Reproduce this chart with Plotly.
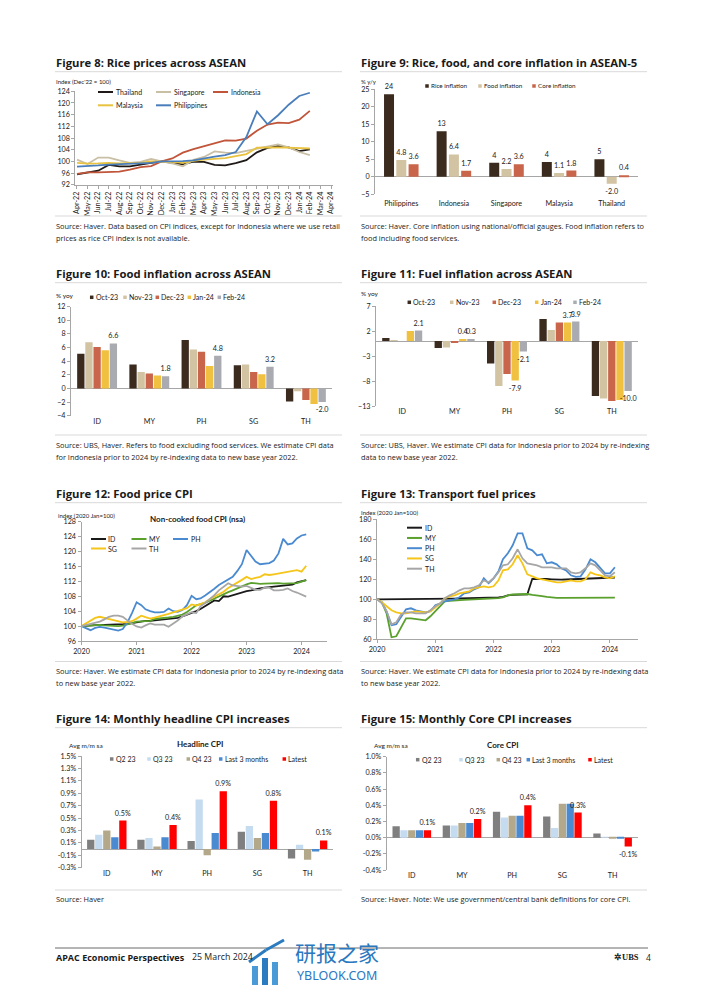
import pandas as pd
import plotly.graph_objects as go

W, H = 702, 992
OFF = 8            # browser body margin: the plot is drawn starting at (8, 8)
FW, FH = W - OFF, H - OFF
FONT = "Lato"
FONT_T = "Open Sans"
TXT = "#1a1a1a"
AXC = "#a6a6a6"
SEP = "#d9d9d9"

# ---------------- Figure 8: rice prices (Index Dec'22 = 100) ----------------
rice_months = ["Apr-22", "May-22", "Jun-22", "Jul-22", "Aug-22", "Sep-22", "Oct-22", "Nov-22",
               "Dec-22", "Jan-23", "Feb-23", "Mar-23", "Apr-23", "May-23", "Jun-23", "Jul-23",
               "Aug-23", "Sep-23", "Oct-23", "Nov-23", "Dec-23", "Jan-24", "Feb-24", "Mar-24", "Apr-24"]
rice_thailand = [95.5, 96.2, 96.8, 98.8, 98.3, 98.3, 99.0, 99.5, 100.0, 99.4, 99.0, 99.9,
                 99.8, 98.8, 98.6, 99.4, 100.4, 103.1, 104.6, 105.2, 104.8, 103.5, 104.1]
rice_singapore = [100.6, 99.1, 101.3, 101.3, 100.3, 99.5, 99.8, 100.8, 100.0, 99.3, 98.3, 100.5,
                  101.5, 103.4, 103.0, 102.8, 103.6, 104.3, 105.0, 105.8, 104.8, 103.2, 102.1]
rice_indonesia = [95.7, 96.2, 96.2, 96.3, 96.5, 97.2, 98.0, 98.4, 100.0, 101.0, 103.0, 104.2,
                  105.2, 106.2, 107.2, 107.1, 107.8, 110.5, 112.6, 113.3, 113.1, 114.3, 117.3]
rice_malaysia = [99.5, 99.2, 99.3, 99.5, 99.3, 99.3, 99.5, 100.0, 100.0, 99.8, 99.5, 100.2,
                 100.6, 100.8, 101.1, 101.8, 102.5, 104.7, 104.8, 104.8, 104.7, 104.5, 104.4]
rice_philippines = [98.2, 98.3, 98.6, 98.9, 99.1, 99.3, 99.4, 99.5, 100.0, 100.0, 100.1, 100.3,
                    101.0, 101.6, 102.1, 103.2, 108.3, 117.1, 112.7, 115.8, 119.4, 122.4, 123.5]
rice_names = ["Thailand", "Singapore", "Indonesia", "Malaysia", "Philippines"]
rice_colors = ["#1f1a17", "#c9bfa5", "#c0553a", "#e9c340", "#4a7ebb"]

# ---------------- Figure 9: rice, food, core inflation ----------------
asean5 = ["Philippines", "Indonesia", "Singapore", "Malaysia", "Thailand"]
rice_infl = [23.6, 13.0, 4.0, 4.2, 5.0]
food_infl = [4.8, 6.4, 2.2, 1.1, -2.0]
core_infl = [3.6, 1.7, 3.6, 1.8, 0.4]
f9_names = ["Rice inflation", "Food inflation", "Core inflation"]
f9_colors = ["#3b2a1e", "#d2c3a2", "#c8654a"]

# ---------------- Figures 10 & 11 ----------------
cc = ["ID", "MY", "PH", "SG", "TH"]
months5 = ["Oct-23", "Nov-23", "Dec-23", "Jan-24", "Feb-24"]
m5_colors = ["#3b2a1e", "#d2c3a2", "#c8654a", "#f0c040", "#a9abb0"]
food_oct = [5.1, 3.5, 7.1, 3.4, -1.9]
food_nov = [6.8, 2.4, 5.7, 3.5, -0.4]
food_dec = [6.1, 2.2, 5.4, 2.4, -1.7]
food_jan = [5.6, 1.9, 3.3, 2.1, -2.3]
food_feb = [6.6, 1.8, 4.8, 3.2, -2.0]
fuel_oct = [0.6, -1.4, -4.5, 4.4, -11.0]
fuel_nov = [0.2, -1.3, -9.0, 2.2, -11.5]
fuel_dec = [0.0, -0.3, -6.6, 3.7, -12.0]
fuel_jan = [2.0, 0.4, -7.9, 3.7, -11.8]
fuel_feb = [2.1, 0.3, -2.1, 3.9, -10.0]
fuel_jan_labelled = ["MY", "PH", "SG"]

# ---------------- Figure 12: food CPI (2020 Jan = 100) ----------------
food_cpi_id = [100.0, 100.1, 100.2, 100.3, 100.3, 100.3, 100.3, 100.4, 100.4, 100.5, 100.6, 100.8,
               101.1, 101.3, 101.4, 101.4, 101.5, 101.6, 101.7, 101.8, 101.9, 102.2, 102.6, 103.0,
               103.5, 104.0, 104.6, 105.3, 106.1, 106.9, 106.7, 108.0, 107.9, 108.3, 108.7, 109.0,
               109.4, 109.6, 109.9, 110.1, 110.3, 110.4, 110.6, 110.6, 110.7, 110.8, 111.1, 111.7,
               111.9, 112.3]
food_cpi_my = [100.0, 100.1, 100.2, 100.3, 100.3, 100.2, 100.1, 100.0, 100.0, 100.1, 100.4, 100.8,
               101.2, 101.2, 101.2, 101.4, 101.9, 102.0, 102.1, 102.3, 102.5, 102.8, 103.1, 103.8,
               104.8, 105.6, 105.9, 106.2, 106.8, 107.4, 108.1, 108.6, 109.1, 109.6, 110.2, 110.8,
               111.2, 111.6, 111.5, 111.3, 111.4, 111.5, 111.5, 111.5, 111.4, 111.4, 111.3, 111.5,
               111.9, 112.3]
food_cpi_ph = [100.0, 99.5, 98.9, 99.5, 99.8, 99.6, 99.4, 99.0, 98.8, 99.2, 101.0, 103.5,
               106.4, 105.6, 104.5, 104.0, 103.7, 103.7, 103.8, 104.7, 104.0, 103.8, 104.3, 105.6,
               108.1, 107.2, 107.4, 108.2, 109.0, 110.0, 111.0, 111.7, 112.3, 113.2, 114.8, 116.6,
               120.4, 118.6, 117.3, 116.6, 116.7, 116.9, 117.6, 119.5, 123.4, 121.9, 122.2, 123.5,
               124.3, 124.6]
food_cpi_sg = [100.0, 100.8, 101.6, 102.2, 102.5, 102.2, 101.9, 101.6, 101.3, 101.0, 101.1, 101.3,
               102.0, 102.8, 102.4, 102.0, 102.3, 102.6, 103.0, 103.3, 103.7, 104.0, 104.3, 104.8,
               105.8, 105.5, 105.9, 106.4, 107.2, 107.9, 108.6, 109.2, 110.2, 111.0, 111.7, 112.4,
               113.2, 112.6, 112.9, 113.2, 113.9, 113.7, 113.9, 114.1, 114.3, 114.4, 114.7, 115.0,
               114.6, 116.2]
food_cpi_th = [100.0, 100.3, 100.6, 100.9, 101.2, 101.8, 102.5, 102.8, 102.8, 102.5, 101.5, 100.6,
               99.9, 99.6, 100.2, 100.7, 100.4, 100.3, 100.4, 99.8, 100.6, 101.5, 102.6, 103.2,
               103.7, 103.5, 105.3, 106.2, 107.2, 108.3, 109.6, 110.5, 111.5, 110.9, 110.7, 110.6,
               110.8, 110.3, 109.7, 109.7, 110.3, 110.3, 109.6, 109.6, 109.7, 110.1, 109.4, 109.0,
               108.4, 107.9]

# ---------------- Figure 13: transport fuel prices (2020 Jan = 100) ----------------
fuel_cpi_id = [100.0, 100.0, 100.0, 100.0, 100.0, 100.0, 100.0, 100.0, 100.0, 100.0, 100.0, 100.2,
               100.3, 100.4, 100.5, 100.6, 100.7, 100.8, 100.9, 101.0, 101.1, 101.2, 101.3, 101.4,
               101.6, 101.9, 102.5, 104.0, 104.4, 104.6, 104.8, 105.0, 120.5, 120.6, 120.6, 120.3,
               120.0, 119.6, 119.6, 119.8, 120.0, 120.0, 120.2, 120.4, 120.7, 121.0, 121.3, 121.5,
               121.5, 121.8]
fuel_cpi_my = [100.0, 97.0, 86.0, 62.0, 63.0, 72.0, 81.0, 81.0, 80.5, 80.0, 79.0, 83.0,
               88.0, 94.0, 98.0, 98.5, 99.0, 99.3, 99.5, 99.7, 99.9, 100.1, 100.3, 100.5,
               100.7, 101.2, 102.0, 104.0, 104.8, 105.2, 105.6, 105.3, 104.5, 103.5, 103.2, 102.5,
               101.8, 101.5, 101.4, 101.4, 101.4, 101.4, 101.4, 101.5, 101.5, 101.5, 101.6, 101.6,
               101.7, 101.7]
fuel_cpi_ph = [100.0, 97.0, 88.0, 74.0, 75.0, 83.0, 90.0, 91.0, 89.0, 88.0, 87.0, 88.0,
               94.0, 96.0, 98.0, 99.0, 100.0, 102.0, 106.0, 107.0, 110.0, 112.0, 121.0, 116.0,
               121.0, 128.0, 140.0, 146.0, 154.0, 166.0, 166.0, 151.0, 149.0, 144.0, 145.0, 136.0,
               137.0, 135.0, 131.0, 129.0, 124.0, 122.5, 123.0, 130.0, 140.0, 137.0, 131.0, 126.0,
               126.0, 132.0]
fuel_cpi_sg = [100.0, 97.0, 93.0, 89.0, 87.0, 86.0, 86.0, 87.0, 88.0, 87.5, 87.0, 88.0,
               92.0, 96.0, 101.0, 103.0, 104.0, 106.0, 107.0, 108.0, 111.0, 112.0, 113.0, 112.0,
               113.0, 119.0, 129.0, 130.0, 135.0, 144.0, 136.0, 125.0, 123.0, 121.0, 120.0, 119.0,
               118.0, 117.0, 117.0, 118.0, 119.0, 118.0, 118.0, 120.0, 127.0, 125.0, 124.0, 122.0,
               121.0, 123.0]
fuel_cpi_th = [100.0, 96.0, 88.0, 75.0, 77.0, 85.0, 87.0, 87.0, 86.0, 86.0, 86.0, 89.0,
               93.0, 96.0, 101.0, 104.0, 106.0, 109.0, 111.0, 111.0, 112.0, 114.0, 119.0, 117.0,
               121.0, 127.0, 134.0, 135.0, 141.0, 150.0, 141.0, 136.0, 135.0, 134.0, 132.0, 132.0,
               132.0, 131.0, 131.0, 131.0, 127.0, 126.0, 127.0, 131.0, 136.0, 134.0, 129.0, 124.0,
               123.0, 127.0]
cpi_names = ["ID", "MY", "PH", "SG", "TH"]
cpi_colors = ["#1a1a1a", "#5aa02c", "#4a8ad0", "#f5c518", "#a6a6a6"]
year_ticks = ["2020", "2021", "2022", "2023", "2024"]

# ---------------- Figures 14 & 15: monthly CPI increases (avg m/m sa, %) ----------------
periods = ["Q2 23", "Q3 23", "Q4 23", "Last 3 months", "Latest"]
p_colors = ["#7f7f7f", "#c5dcf0", "#b3a88a", "#4a8ad0", "#ff0000"]
head_q2 = [0.15, 0.15, 0.13, 0.28, -0.15]
head_q3 = [0.23, 0.18, 0.80, 0.37, 0.07]
head_q4 = [0.30, 0.04, -0.10, 0.18, -0.17]
head_l3m = [0.19, 0.19, 0.26, 0.26, -0.04]
head_latest = [0.46, 0.39, 0.93, 0.78, 0.14]
core_q2 = [0.14, 0.15, 0.32, 0.26, 0.05]
core_q3 = [0.09, 0.15, 0.25, 0.12, 0.01]
core_q4 = [0.09, 0.18, 0.27, 0.42, -0.01]
core_l3m = [0.09, 0.18, 0.27, 0.42, -0.01]
core_latest = [0.09, 0.23, 0.40, 0.31, -0.11]

# =====================================================================
fig = go.Figure()
shapes, anns = [], []
layout = dict(width=FW, height=FH, margin=dict(l=0, r=0, t=0, b=0), paper_bgcolor="white",
              plot_bgcolor="rgba(0,0,0,0)", template="none", showlegend=False, barmode="overlay",
              font=dict(family=FONT, color=TXT, size=7))


def X(px):
    return (px - OFF) / FW


def Y(py):
    return 1 - (py - OFF) / FH


def text(x, y, s, size=7.0, bold=False, color=TXT, anchor="left", family=FONT):
    anns.append(dict(x=X(x), y=Y(y), xref="paper", yref="paper", text=(f"<b>{s}</b>" if bold else s),
                     showarrow=False, xanchor=anchor, yanchor="middle", borderpad=0,
                     font=dict(size=size, color=color, family=family)))


def seg(x0, y0, x1, y1, color, width=1.0):
    shapes.append(dict(type="line", xref="paper", yref="paper", x0=X(x0), y0=Y(y0), x1=X(x1), y1=Y(y1),
                       line=dict(color=color, width=width)))


def box(x0, y0, x1, y1, color):
    shapes.append(dict(type="rect", xref="paper", yref="paper", x0=X(x0), y0=Y(y1), x1=X(x1), y1=Y(y0),
                       fillcolor=color, line=dict(width=0)))


def leg_line(x, y, color, label, length=15, size=7):
    seg(x, y, x + length, y, color, 2)
    text(x + length + 1.5, y, label, size=size)


def leg_sq(x, y, color, label, s=4, size=7):
    box(x - s / 2, y - s / 2, x + s / 2, y + s / 2, color)
    text(x + s / 2 + 1.2, y, label, size=size)


def ids(n):
    return ("x" if n == 1 else f"x{n}", "y" if n == 1 else f"y{n}")


TICKF = dict(size=7.2, color=TXT, family=FONT)


def set_axes(n, xdom, ydom, xopts, yopts):
    xid, yid = ids(n)
    xa = "xaxis" if n == 1 else f"xaxis{n}"
    ya = "yaxis" if n == 1 else f"yaxis{n}"
    base = dict(showgrid=False, automargin=False, fixedrange=True, tickfont=TICKF)
    layout[xa] = dict(base, domain=[X(xdom[0]), X(xdom[1])], anchor=yid, **xopts)
    layout[ya] = dict(base, domain=[Y(ydom[1]), Y(ydom[0])], anchor=xid, **yopts)


def y_linear(lo, hi, tickvals, ticktext=None):
    d = dict(range=[lo, hi], tickvals=tickvals, showline=True, linecolor=AXC, linewidth=1,
             ticks="outside", ticklen=3, tickcolor=AXC, zeroline=False)
    if ticktext is not None:
        d["ticktext"] = ticktext
    return d


def y_bar(lo, hi, tickvals, ticktext=None):
    d = y_linear(lo, hi, tickvals, ticktext)
    d.update(zeroline=True, zerolinecolor=AXC, zerolinewidth=1)
    return d


X_CAT = dict(range=[-0.5, 4.5], showline=False, ticks="", zeroline=False, type="category")


def grouped_bars(n, cats, series, colors, group_frac, bar_frac, texts):
    xid, yid = ids(n)
    k = len(series)
    slot = group_frac / k
    for i, (vals, col, tx) in enumerate(zip(series, colors, texts)):
        off = -group_frac / 2 + i * slot + (slot - bar_frac) / 2
        fig.add_trace(go.Bar(x=cats, y=vals, width=bar_frac, offset=off,
                             marker=dict(color=col, line=dict(width=0)),
                             text=tx, textposition="outside", textangle=0, constraintext="none",
                             cliponaxis=False, textfont=dict(size=7.2, color=TXT, family=FONT),
                             hoverinfo="skip", xaxis=xid, yaxis=yid, showlegend=False))


def header(x0, x1, title, y_title, y_line):
    text(x0, y_title, title, size=11.3, bold=True, family=FONT_T)
    seg(x0, y_line, x1, y_line, SEP, 1)


def footer_src(x0, x1, y_line, lines, y_first, step=11.8):
    seg(x0, y_line, x1, y_line, SEP, 1)
    for i, s in enumerate(lines):
        text(x0, y_first + i * step, s, size=7.4, family=FONT_T)


LX0, LX1, RX0, RX1 = 55, 342, 360, 647

# ---------------- Figure 8 ----------------
header(LX0, LX1, "Figure 8: Rice prices across ASEAN", 62, 71.7)
text(55, 81.5, "Index (Dec'22 = 100)", size=6)
rice_series = [rice_thailand, rice_singapore, rice_indonesia, rice_malaysia, rice_philippines]
rice_x = list(range(len(rice_months)))
for vals, col in zip(rice_series, rice_colors):
    fig.add_trace(go.Scatter(x=rice_x[:len(vals)], y=vals, mode="lines", line=dict(color=col, width=1.8),
                             hoverinfo="skip", xaxis="x", yaxis="y", showlegend=False))
set_axes(1, (75.4, 332.6), (91.3, 184.7),
         dict(range=[-0.15, len(rice_months) - 1 + 0.15], tickvals=rice_x, ticktext=rice_months,
              tickangle=-90, showline=True, linecolor=AXC, ticks="outside", ticklen=3, tickcolor=AXC,
              zeroline=False),
         y_linear(92, 124, list(range(92, 125, 4))))
leg_line(98, 92, rice_colors[0], rice_names[0])
leg_line(156, 92, rice_colors[1], rice_names[1])
leg_line(213, 92, rice_colors[2], rice_names[2])
leg_line(98, 105.3, rice_colors[3], rice_names[3])
leg_line(156, 105.3, rice_colors[4], rice_names[4])
footer_src(LX0, LX1, 216, ["Source: Haver. Data based on CPI indices, except for Indonesia where we use retail",
                           "prices as rice CPI index is not available."], 226)

# ---------------- Figure 9 ----------------
header(RX0, RX1, "Figure 9: Rice, food, and core inflation in ASEAN-5", 62, 71.7)
text(360, 81.5, "% y/y", size=6)
grouped_bars(2, asean5, [rice_infl, food_infl, core_infl], f9_colors, 0.70, 0.19,
             [[f"{v:.0f}" for v in rice_infl], [f"{v:.1f}" for v in food_infl],
              [f"{v:.1f}" for v in core_infl]])
set_axes(2, (375, 638), (89.3, 194.3), dict(X_CAT, ticklabelstandoff=3),
         y_bar(-5, 25, list(range(-5, 26, 5))))
for xp, nm, col in zip([427, 480, 534], f9_names, f9_colors):
    leg_sq(xp, 86, col, nm, s=3.5, size=6.3)
footer_src(RX0, RX1, 216, ["Source: Haver. Core inflation using national/official gauges. Food inflation refers to",
                           "food including food services."], 226)

# ---------------- Figure 10 ----------------
header(LX0, LX1, "Figure 10: Food inflation across ASEAN", 273.5, 282.7)
text(55, 295, "% yoy", size=6.5)
food_series = [food_oct, food_nov, food_dec, food_jan, food_feb]
f10_text = [None, None, None, None, [f"{v:.1f}" for v in food_feb]]
grouped_bars(3, cc, food_series, m5_colors, 0.78, 0.14, f10_text)
set_axes(3, (71, 332), (306.7, 415.7), X_CAT, y_bar(-4, 12, list(range(-4, 13, 2))))
for xp, nm, col in zip([91.7, 125, 157.3, 189.3, 219.3], months5, m5_colors):
    leg_sq(xp, 297.3, col, nm, s=3.5, size=7)
footer_src(LX0, LX1, 435, ["Source: UBS, Haver. Refers to food excluding food services. We estimate CPI data",
                           "for Indonesia prior to 2024 by re-indexing data to new base year 2022."], 445)

# ---------------- Figure 11 ----------------
header(RX0, RX1, "Figure 11: Fuel inflation across ASEAN", 273.5, 282.7)
text(360, 293.3, "% yoy", size=6.5)
fuel_series = [fuel_oct, fuel_nov, fuel_dec, fuel_jan, fuel_feb]
f11_text = [None, None, None,
            [f"{v:.1f}" if c in fuel_jan_labelled else "" for c, v in zip(cc, fuel_jan)],
            [f"{v:.1f}" for v in fuel_feb]]
grouped_bars(4, cc, fuel_series, m5_colors, 0.78, 0.14, f11_text)
set_axes(4, (376, 638), (306, 406), X_CAT, y_bar(-13, 7, [-13, -8, -3, 2, 7]))
for xp, nm, col in zip([409.3, 451.7, 494.3, 536.7, 575], months5, m5_colors):
    leg_sq(xp, 302.3, col, nm, s=3.5, size=7)
footer_src(RX0, RX1, 435, ["Source: UBS, Haver. We estimate CPI data for Indonesia prior to 2024 by re-indexing",
                           "data to new base year 2022."], 445)

# ---------------- Figure 12 ----------------
months50 = pd.date_range("2020-01-01", periods=len(food_cpi_id), freq="MS")
year_vals = [f"{y}-01-01" for y in year_ticks]
header(LX0, LX1, "Figure 12: Food price CPI", 493.5, 502.7)
text(57, 515, "index (2020 Jan=100)", size=6)
text(198, 518.5, "Non-cooked food CPI (nsa)", size=8, bold=True, anchor="center")
for vals, col in zip([food_cpi_id, food_cpi_my, food_cpi_ph, food_cpi_sg, food_cpi_th], cpi_colors):
    fig.add_trace(go.Scatter(x=months50, y=vals, mode="lines", line=dict(color=col, width=1.8),
                             hoverinfo="skip", xaxis="x5", yaxis="y5", showlegend=False))
set_axes(5, (81.5, 327), (521.7, 641),
         dict(type="date", range=["2020-01-01", "2024-06-18"], tickvals=year_vals, ticktext=year_ticks,
              showline=True, linecolor=AXC, ticks="outside", ticklen=3, tickcolor=AXC, zeroline=False),
         y_linear(96, 128, list(range(96, 129, 4))))
leg_line(91, 539, cpi_colors[0], cpi_names[0])
leg_line(131.5, 539, cpi_colors[1], cpi_names[1])
leg_line(173, 539, cpi_colors[2], cpi_names[2])
leg_line(91, 548.5, cpi_colors[3], cpi_names[3])
leg_line(131.5, 548.5, cpi_colors[4], cpi_names[4])
footer_src(LX0, LX1, 661.5, ["Source: Haver. We estimate CPI data for Indonesia prior to 2024 by re-indexing data",
                             "to new base year 2022."], 671)

# ---------------- Figure 13 ----------------
header(RX0, RX1, "Figure 13: Transport fuel prices", 493.5, 502.7)
text(360, 512, "Index (2020 Jan=100)", size=6)
for vals, col in zip([fuel_cpi_id, fuel_cpi_my, fuel_cpi_ph, fuel_cpi_sg, fuel_cpi_th], cpi_colors):
    fig.add_trace(go.Scatter(x=months50, y=vals, mode="lines", line=dict(color=col, width=1.8),
                             hoverinfo="skip", xaxis="x6", yaxis="y6", showlegend=False))
set_axes(6, (377, 638), (519.3, 639.3),
         dict(type="date", range=["2020-01-01", "2024-06-25"], tickvals=year_vals, ticktext=year_ticks,
              showline=True, linecolor=AXC, ticks="outside", ticklen=3, tickcolor=AXC, zeroline=False),
         y_linear(60, 180, list(range(60, 181, 20))))
for i, (nm, col) in enumerate(zip(cpi_names, cpi_colors)):
    leg_line(407, 527.7 + i * 10.25, col, nm)
footer_src(RX0, RX1, 661.5, ["Source: Haver. We estimate CPI data for Indonesia prior to 2024 by re-indexing data",
                             "to new base year 2022."], 671)

# ---------------- Figure 14 ----------------
header(LX0, LX1, "Figure 14: Monthly headline CPI increases", 718.3, 727.7)
text(68, 745, "Avg m/m sa", size=6.5)
text(200, 743.5, "Headline CPI", size=8, bold=True, anchor="center")
head_series = [head_q2, head_q3, head_q4, head_l3m, head_latest]
grouped_bars(7, cc, head_series, p_colors, 0.80, 0.145,
             [None, None, None, None, [f"{v:.1f}%" for v in head_latest]])
h_ticks = [round(-0.3 + 0.2 * i, 1) for i in range(10)]
set_axes(7, (81.7, 332.7), (756, 867.7), X_CAT, y_bar(-0.3, 1.5, h_ticks, [f"{v:.1f}%" for v in h_ticks]))
for xp, nm, col in zip([111.7, 149, 188.3, 220.7, 284.3], periods, p_colors):
    leg_sq(xp, 759, col, nm, s=3.5, size=7)
footer_src(LX0, LX1, 890, ["Source: Haver"], 899.3)

# ---------------- Figure 15 ----------------
header(RX0, RX1, "Figure 15: Monthly Core CPI increases", 718.3, 727.7)
text(373.3, 745, "Avg m/m sa", size=6.5)
text(503, 745, "Core CPI", size=8, bold=True, anchor="center")
core_series = [core_q2, core_q3, core_q4, core_l3m, core_latest]
grouped_bars(8, cc, core_series, p_colors, 0.78, 0.145,
             [None, None, None, None, [f"{v:.1f}%" for v in core_latest]])
c_ticks = [round(-0.4 + 0.2 * i, 1) for i in range(8)]
set_axes(8, (386.7, 637.7), (756.7, 870), X_CAT, y_bar(-0.4, 1.0, c_ticks, [f"{v:.1f}%" for v in c_ticks]))
for xp, nm, col in zip([417.7, 461, 498.3, 528.3, 590], periods, p_colors):
    leg_sq(xp, 759.7, col, nm, s=3.5, size=7)
footer_src(RX0, RX1, 890, ["Source: Haver. Note: We use government/central bank definitions for core CPI."], 899.3)

# ---------------- page footer ----------------
seg(55, 948, 648, 948, "#6b6b6b", 1)
text(55, 957, "APAC Economic Perspectives", size=9, bold=True, family=FONT_T)
text(191, 957, "25 March 2024", size=8.8, family=FONT_T)
text(640, 957, "✲UBS", size=8.5, bold=True, family="Liberation Serif", anchor="right")
text(645, 957, "4", size=8.5, family=FONT_T)
# watermark
box(252, 966, 258, 985, "#4a9ad8")
box(262, 958, 268, 985, "#2a7bc0")
box(272, 962, 278, 985, "#4a9ad8")
seg(249, 962, 266, 950, "#2a7bc0", 3)
seg(266, 950, 284, 940, "#2a7bc0", 3)
text(337, 952, "研报之家", size=21, color="#2a78bf", anchor="center", family="Noto Sans CJK SC")
text(337, 975, "YBLOOK.COM", size=12.5, color="#2a78bf", anchor="center", family="Noto Sans")

layout["shapes"] = shapes
layout["annotations"] = anns
fig.update_layout(**layout)
fig.write_html("out.html")
